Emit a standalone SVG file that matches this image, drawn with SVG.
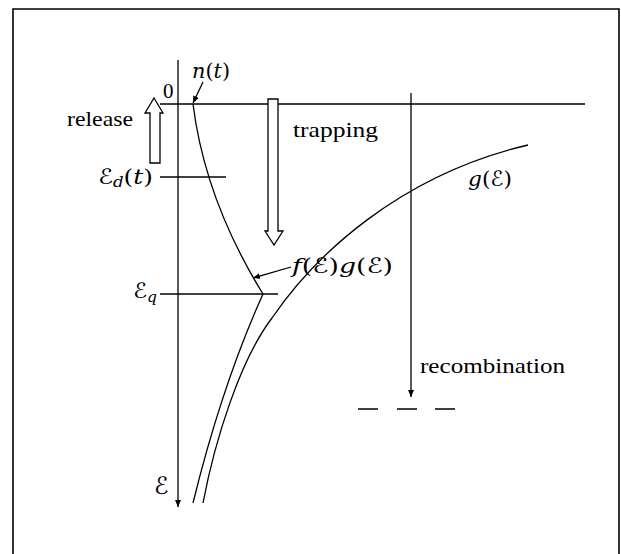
<svg xmlns="http://www.w3.org/2000/svg" width="621" height="554" viewBox="0 0 621 554">
<style>
.ln{fill:none;stroke:#000;stroke-width:1.3}
.fr{fill:none;stroke:#000;stroke-width:1.6}
.hol{fill:#fff;stroke:#000;stroke-width:1.3}
.t{font-family:"Liberation Serif","DejaVu Serif",serif;font-size:21px;fill:#000}
.m{font-family:"DejaVu Serif","DejaVu Sans",serif;font-style:italic;font-size:21px;fill:#000}
.u{font-style:normal}
.s{font-size:14px}
</style>
<defs>
<marker id="ah" markerWidth="8" markerHeight="8" refX="7" refY="4" orient="auto" markerUnits="userSpaceOnUse">
<path d="M0,1 L7,4 L0,7 Z" fill="#000"/>
</marker>
</defs>
<rect width="621" height="554" fill="#fff"/>
<path class="fr" d="M13,560 L13,9 L619,9 L619,560"/>
<g id="connectors">
<line class="ln" x1="178" y1="60" x2="178" y2="507" marker-end="url(#ah)"/>
<line class="ln" x1="160" y1="104" x2="585" y2="104"/>
<line class="ln" x1="160" y1="177" x2="226" y2="177"/>
<line class="ln" x1="160" y1="294" x2="278" y2="294"/>
<line class="ln" x1="411" y1="93" x2="411" y2="397" marker-end="url(#ah)"/>
<path class="ln" d="M358,409 H378 M397,409 H417 M435,409 H455"/>
<path class="ln" d="M193,104 Q205,200 263,294 Q222,385 193,503"/>
<path class="ln" d="M203,503 C215,440 240,360 272,318 C315,255 400,175 528,145"/>
<line class="ln" x1="203" y1="82" x2="193" y2="103" marker-end="url(#ah)"/>
<line class="ln" x1="291" y1="267" x2="253" y2="278" marker-end="url(#ah)"/>
</g>
<g id="release-arrow">
<path class="hol" d="M150,163 L150,113 L145,113 L154,98 L163,113 L160,113 L160,163 Z"/>
<text class="t" x="67" y="126" textLength="66" lengthAdjust="spacingAndGlyphs">release</text>
</g>
<g id="trapping-arrow">
<path class="hol" d="M268,99 L278,99 L278,231 L283,231 L274,245 L265,231 L268,231 Z"/>
<text class="t" x="293" y="137" textLength="85" lengthAdjust="spacingAndGlyphs">trapping</text>
</g>
<g id="labels">
<text class="t" x="163" y="98">0</text>
<text class="m" x="192" y="78" textLength="38" lengthAdjust="spacingAndGlyphs">n<tspan class="u">(</tspan>t<tspan class="u">)</tspan></text>
<text class="m" x="98" y="184" textLength="55" lengthAdjust="spacingAndGlyphs">ℰ<tspan class="s" dy="3">d</tspan><tspan class="u" dy="-3">(</tspan>t<tspan class="u">)</tspan></text>
<text class="m" x="133" y="298" textLength="24" lengthAdjust="spacingAndGlyphs">ℰ<tspan class="s" dy="4">q</tspan></text>
<text class="m" x="468" y="186" textLength="44" lengthAdjust="spacingAndGlyphs">g<tspan class="u">(</tspan>ℰ<tspan class="u">)</tspan></text>
<text class="m" x="292" y="273" textLength="101" lengthAdjust="spacingAndGlyphs">f<tspan class="u">(</tspan>ℰ<tspan class="u">)</tspan>g<tspan class="u">(</tspan>ℰ<tspan class="u">)</tspan></text>
<text class="t" x="420" y="373" textLength="145" lengthAdjust="spacingAndGlyphs">recombination</text>
<text class="m" x="154" y="494" style="font-size:24px">ℰ</text>
</g>
</svg>
